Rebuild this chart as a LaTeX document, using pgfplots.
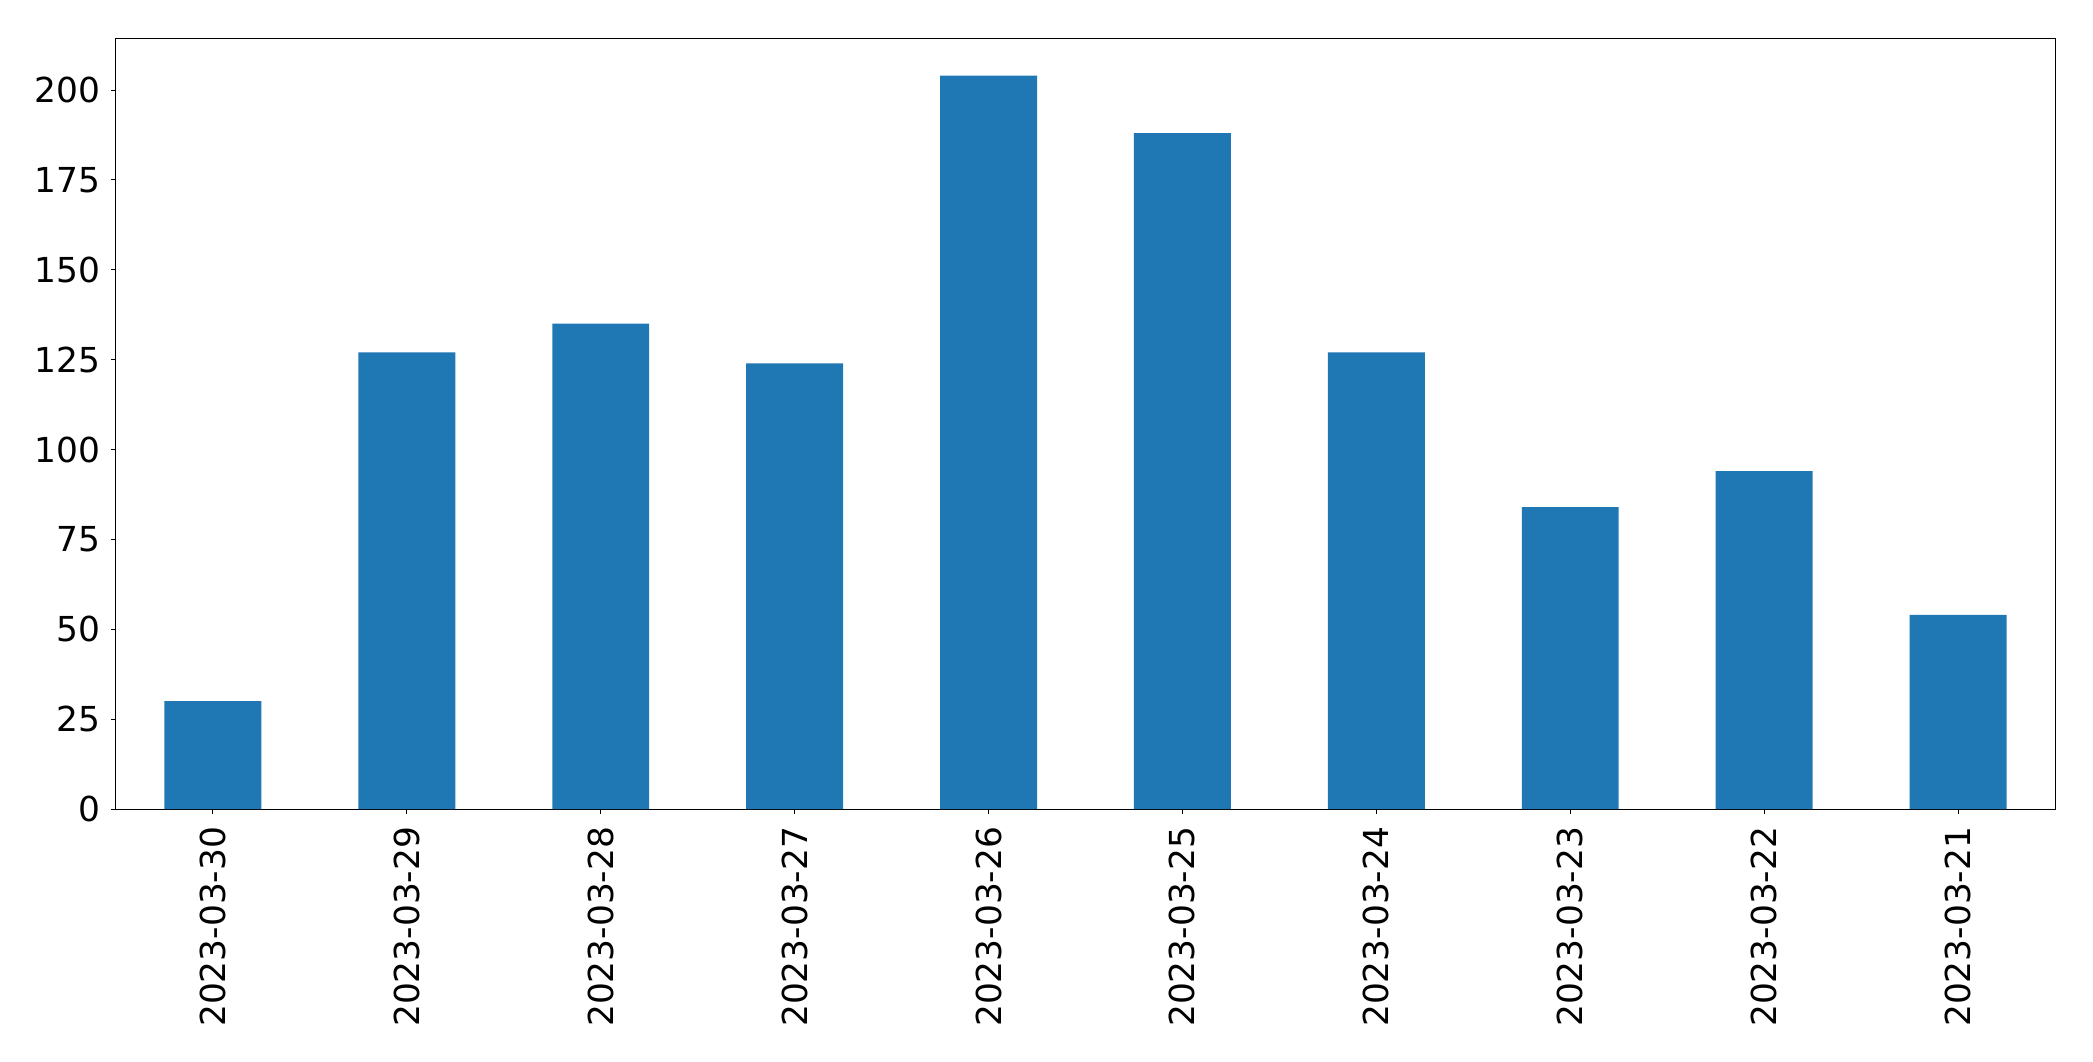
\documentclass[border=0pt]{standalone}
\usepackage{pgfplots}
\pgfplotsset{compat=1.18}
\usepackage{fontspec}
\setmainfont{DejaVu Sans}
\definecolor{mplblue}{HTML}{1F77B4}
\begin{document}
\begin{tikzpicture}
\begin{axis}[
  name=ax,
  scale only axis,
  width=969.5pt, height=385pt,
  xmin=-0.5, xmax=9.5,
  ymin=0, ymax=214.2,
  xtick={0,...,9},
  xticklabels={2023-03-30,2023-03-29,2023-03-28,2023-03-27,2023-03-26,2023-03-25,2023-03-24,2023-03-23,2023-03-22,2023-03-21},
  ytick={0,25,50,75,100,125,150,175,200},
  x tick label style={rotate=90, anchor=east, font=\fontsize{17.2}{20}\selectfont},
  y tick label style={font=\fontsize{17.2}{20}\selectfont},
  /pgf/number format/assume math mode=true,
  tick align=outside,
  major tick length=2.4pt,
  tick style={black, line width=0.5pt},
  xtick pos=bottom, ytick pos=left,
  axis line style={black, line width=0.5pt},
  xticklabel shift=3pt,
  yticklabel shift=2pt,
]
\addplot[ybar, bar width=0.5, fill=mplblue, draw=none] coordinates {
(0,30) (1,127) (2,135) (3,124) (4,204) (5,188) (6,127) (7,84) (8,94) (9,54)
};
\end{axis}
\pgfresetboundingbox
\path[use as bounding box] ([xshift=-58pt,yshift=-126pt]ax.south west) rectangle ([xshift=19pt,yshift=19.5pt]ax.north east);
\end{tikzpicture}
\end{document}
